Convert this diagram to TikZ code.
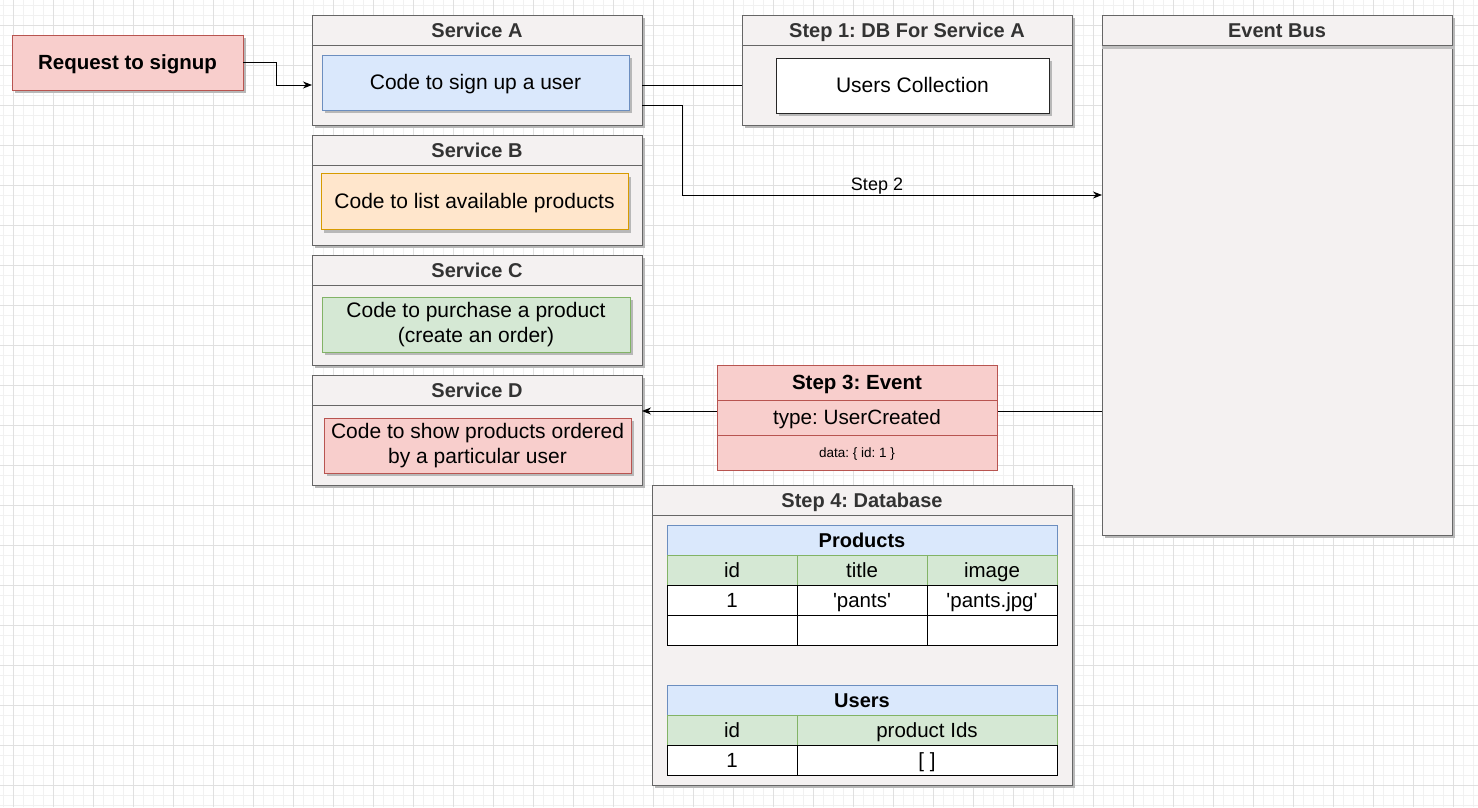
\documentclass[tikz,border=0pt]{standalone}
\usepackage{fontspec}
\setmainfont{Liberation Sans}
\usetikzlibrary{shadows,arrows.meta}
\frenchspacing
\definecolor{contfill}{HTML}{F4F1F1}
\definecolor{contline}{HTML}{666666}
\definecolor{hdrtext}{HTML}{333333}
\definecolor{bluef}{HTML}{DAE8FC}
\definecolor{bluel}{HTML}{6C8EBF}
\definecolor{orangef}{HTML}{FFE6CC}
\definecolor{orangel}{HTML}{D79B00}
\definecolor{greenf}{HTML}{D5E8D4}
\definecolor{greenl}{HTML}{82B366}
\definecolor{redf}{HTML}{F8CECC}
\definecolor{redl}{HTML}{B85450}
\definecolor{gridminor}{HTML}{F1F1F1}
\definecolor{gridmajor}{HTML}{E0E0E0}
\tikzset{
  box/.style={draw, line width=1pt, inner sep=0pt, outer sep=0pt, align=center},
  oneline/.style={text height=14.7pt, text depth=0pt},
  shadowed/.style={drop shadow={shadow xshift=3pt, shadow yshift=-3pt, fill=black!28, opacity=1}},
  cont/.style={box, shadowed, draw=contline, fill=contfill, anchor=north west},
  contedge/.style={draw=contline, line width=1pt},
  hdr/.style={font=\fontsize{20}{24}\selectfont\bfseries, text=hdrtext, inner sep=0pt, oneline},
  codebox/.style={box, shadowed, font=\fontsize{21}{25}\selectfont},
  cell/.style={box, font=\fontsize{20.5}{24}\selectfont, minimum height=30pt, oneline},
  evrow/.style={box, fill=redf, draw=redl, minimum width=280pt, minimum height=35pt, oneline},
  conn/.style={draw=black, line width=1pt},
  arr/.style={conn, -{Stealth[length=9pt,width=7pt]}},
  gmin/.style={draw=gridminor, line width=0.8pt},
  gmaj/.style={draw=gridmajor, line width=0.8pt},
}
\newcommand\mycont[6]{%
  \node[cont, minimum width=#4pt, minimum height=#5pt] (#1) at (#2,#3) {};
  \draw[contedge] ([yshift=-30pt]#1.north west) -- ([yshift=-30pt]#1.north east);
  \node[hdr] (#1T) at ([yshift=-15pt]#1.north) {#6};
}
\begin{document}
\begin{tikzpicture}[x=1pt,y=-1pt]
\useasboundingbox (0,0) rectangle (1478,807);
\fill[white] (0,0) rectangle (1478,807);
% grid
\foreach \x in {3,13,...,1478} \draw[gmin] (\x,0) -- (\x,807);
\foreach \y in {5,15,...,807} \draw[gmin] (0,\y) -- (1478,\y);
\foreach \x in {13,53,...,1478} \draw[gmaj] (\x,0) -- (\x,807);
\foreach \y in {25,65,...,807} \draw[gmaj] (0,\y) -- (1478,\y);

% request
\node[box, shadowed, oneline, fill=redf, draw=redl, minimum width=231pt, minimum height=55pt,
      font=\fontsize{20.5}{24}\selectfont\bfseries] (req) at (127.5,62.5) {Request to signup};

% services
\mycont{sa}{312}{15}{330}{110}{Service A}
\node[codebox, oneline, fill=bluef, draw=bluel, minimum width=307pt, minimum height=55pt] (saCode) at (475.5,82.5) {Code to sign up a user};
\mycont{sb}{312}{135}{330}{110}{Service B}
\node[codebox, oneline, fill=orangef, draw=orangel, minimum width=307pt, minimum height=56pt] (sbCode) at (474.5,201.5) {Code to list available products};
\mycont{sc}{312}{255}{330}{110}{Service C}
\node[codebox, fill=greenf, draw=greenl, minimum width=308pt, minimum height=55pt] (scCode) at (476,324.5) {Code to purchase a product\\(create an order)};
\mycont{sd}{312}{375}{330}{110}{Service D}
\node[codebox, fill=redf, draw=redl, minimum width=307pt, minimum height=55pt] (sdCode) at (477.5,445.5) {Code to show products ordered\\by a particular user};

% step 1
\mycont{s1}{742}{15}{330}{110}{Step 1: DB For Service A}
\node[codebox, oneline, fill=white, draw=black!85, minimum width=273pt, minimum height=55pt] (s1Code) at (912.5,85.5) {Users Collection};

% event bus
\node[cont, minimum width=350pt, minimum height=520pt] (bus) at (1102,15) {};
\fill[black!25] ([yshift=-30.5pt]bus.north west) rectangle ([yshift=-33.5pt,xshift=3pt]bus.north east);
\draw[contedge] ([yshift=-30pt]bus.north west) -- ([yshift=-30pt]bus.north east);
\node[hdr] (busT) at ([yshift=-15pt]bus.north) {Event Bus};

% connectors
\draw[arr] (req.east) -- ++(33,0) |- ([yshift=-15pt]sa.west);
\draw[conn] ([yshift=-15pt]sa.east) -- ([yshift=-15pt]s1.west);
\draw[arr] ([yshift=-35pt]sa.east) -- ++(40,0) |- ([yshift=80pt]bus.west);
\node[font=\fontsize{18}{21}\selectfont, inner sep=0pt, text height=13pt, text depth=0pt] (step2) at (877,184) {Step 2};
\draw[arr] ([yshift=-136pt]bus.west) -- ([yshift=-136pt]bus.west -| sd.east);

% step 3 event
\node[evrow, font=\fontsize{20.5}{24}\selectfont\bfseries] (evT) at (857,382.5) {Step 3: Event};
\node[evrow, font=\fontsize{20.7}{24}\selectfont] (evType) at (857,417.5) {type: UserCreated};
\node[evrow, font=\fontsize{13.5}{16}\selectfont, text height=9.8pt] (evData) at (857,452.5) {data: \{ id: 1 \}};

% step 4 database
\mycont{s4}{652}{485}{420}{300}{Step 4: Database}
\node[cell, fill=bluef, draw=bluel, minimum width=390pt, font=\fontsize{20}{24}\selectfont\bfseries] (pH) at (862,540) {Products};
\node[cell, fill=greenf, draw=greenl, minimum width=130pt] (pC1) at (732,570) {id};
\node[cell, fill=greenf, draw=greenl, minimum width=130pt] (pC2) at (862,570) {title};
\node[cell, fill=greenf, draw=greenl, minimum width=130pt] (pC3) at (992,570) {image};
\node[cell, fill=white, draw=black, minimum width=130pt] (p11) at (732,600) {1};
\node[cell, fill=white, draw=black, minimum width=130pt] (p12) at (862,600) {\textquotesingle pants\textquotesingle};
\node[cell, fill=white, draw=black, minimum width=130pt] (p13) at (992,600) {\textquotesingle pants.jpg\textquotesingle};
\node[cell, fill=white, draw=black, minimum width=130pt] (p21) at (732,630) {};
\node[cell, fill=white, draw=black, minimum width=130pt] (p22) at (862,630) {};
\node[cell, fill=white, draw=black, minimum width=130pt] (p23) at (992,630) {};

\node[cell, fill=bluef, draw=bluel, minimum width=390pt, font=\fontsize{20}{24}\selectfont\bfseries] (uH) at (862,700) {Users};
\node[cell, fill=greenf, draw=greenl, minimum width=130pt] (uC1) at (732,730) {id};
\node[cell, fill=greenf, draw=greenl, minimum width=260pt] (uC2) at (927,730) {product Ids};
\node[cell, fill=white, draw=black, minimum width=130pt] (u11) at (732,760) {1};
\node[cell, fill=white, draw=black, minimum width=260pt] (u12) at (927,760) {[ ]};
\end{tikzpicture}
\end{document}
